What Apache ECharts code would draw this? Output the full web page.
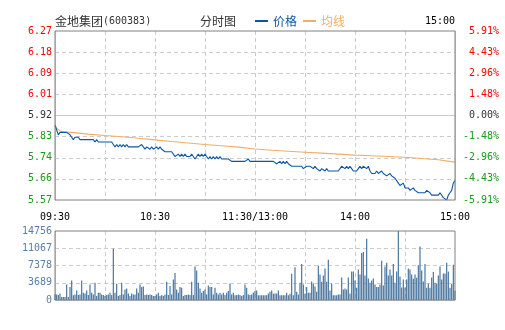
<!DOCTYPE html>
<html>
<head>
<meta charset="utf-8">
<script src="https://cdn.jsdelivr.net/npm/echarts@6/dist/echarts.min.js"></script>
<style>
  html, body { margin: 0; padding: 0; background: #fff; }
  #chart { width: 505px; height: 330px; }
</style>
</head>
<body>
<div id="chart"></div>
<script>
// Intraday (分时) chart: price + average line, per-minute volume below.
const stockName = '金地集团';
const stockCode = '(600383)';
const chartTitle = '分时图';
const closeTime = '15:00';
const prevClose = 5.92;

// Left / right axis labels, bottom to top
const priceTicks = ['5.57', '5.66', '5.74', '5.83', '5.92', '6.01', '6.09', '6.18', '6.27'];
const pctTicks = ['-5.91%', '-4.43%', '-2.96%', '-1.48%', '0.00%', '1.48%', '2.96%', '4.43%', '5.91%'];
const volumeMax = 14756;
const volumeStep = 3689;
const timeTicks = { 0: '09:30', 60: '10:30', 120: '11:30/13:00', 180: '14:00', 240: '15:00' };

// Last price per minute, 09:30 .. 15:00 (241 points)
const price = [
  5.88, 5.86, 5.84, 5.85, 5.85, 5.85, 5.85, 5.85, 5.85, 5.84,
  5.83, 5.82, 5.83, 5.83, 5.83, 5.82, 5.82, 5.82, 5.82, 5.82,
  5.82, 5.82, 5.82, 5.82, 5.81, 5.82, 5.81, 5.81, 5.81, 5.81,
  5.81, 5.81, 5.81, 5.81, 5.81, 5.80, 5.79, 5.80, 5.79, 5.80,
  5.79, 5.80, 5.79, 5.80, 5.79, 5.79, 5.79, 5.79, 5.79, 5.79,
  5.79, 5.79, 5.80, 5.79, 5.78, 5.79, 5.79, 5.78, 5.79, 5.78,
  5.78, 5.79, 5.78, 5.79, 5.78, 5.78, 5.77, 5.77, 5.77, 5.77,
  5.77, 5.76, 5.75, 5.75, 5.76, 5.75, 5.76, 5.75, 5.76, 5.75,
  5.75, 5.75, 5.76, 5.75, 5.74, 5.75, 5.76, 5.75, 5.76, 5.75,
  5.76, 5.75, 5.74, 5.75, 5.74, 5.75, 5.74, 5.75, 5.74, 5.75,
  5.74, 5.74, 5.74, 5.74, 5.74, 5.74, 5.73, 5.73, 5.73, 5.73,
  5.73, 5.73, 5.73, 5.73, 5.73, 5.73, 5.74, 5.73, 5.73, 5.73,
  5.73, 5.73, 5.73, 5.73, 5.73, 5.73, 5.73, 5.73, 5.73, 5.73,
  5.73, 5.73, 5.73, 5.72, 5.72, 5.73, 5.72, 5.73, 5.72, 5.73,
  5.72, 5.72, 5.71, 5.71, 5.71, 5.71, 5.71, 5.71, 5.71, 5.70,
  5.70, 5.71, 5.71, 5.71, 5.71, 5.70, 5.71, 5.70, 5.70, 5.69,
  5.70, 5.70, 5.69, 5.70, 5.69, 5.69, 5.69, 5.69, 5.69, 5.69,
  5.69, 5.70, 5.71, 5.71, 5.70, 5.71, 5.70, 5.71, 5.70, 5.69,
  5.69, 5.69, 5.70, 5.71, 5.70, 5.71, 5.71, 5.70, 5.71, 5.69,
  5.68, 5.68, 5.68, 5.69, 5.68, 5.68, 5.69, 5.68, 5.68, 5.67,
  5.67, 5.68, 5.67, 5.67, 5.66, 5.66, 5.64, 5.63, 5.63, 5.64,
  5.62, 5.62, 5.62, 5.61, 5.61, 5.62, 5.61, 5.61, 5.60, 5.60,
  5.60, 5.60, 5.60, 5.61, 5.61, 5.60, 5.59, 5.59, 5.59, 5.59,
  5.59, 5.60, 5.59, 5.58, 5.58, 5.57, 5.59, 5.60, 5.61, 5.64,
  5.65
];

// Average price (均线) at selected minutes
const avgMinute = [0, 1, 2, 3, 5, 10, 20, 30, 40, 50, 60, 70, 80, 90, 100, 110, 120, 130, 140, 150, 160, 170, 180, 190, 200, 210, 220, 230, 240];
const avgPrice = [5.880, 5.868, 5.860, 5.856, 5.853, 5.850, 5.843, 5.837, 5.832, 5.826, 5.819, 5.812, 5.806, 5.800, 5.795, 5.789, 5.781, 5.776, 5.772, 5.768, 5.764, 5.760, 5.756, 5.753, 5.750, 5.747, 5.742, 5.737, 5.727];

// Volume per minute (241 bars)
const volume = [
  1300, 1200, 1060, 1410, 640, 640, 640, 3320, 640, 2760,
  4170, 990, 1200, 2050, 1060, 1200, 4170, 1560, 1410, 2050,
  1060, 3320, 1560, 1200, 3680, 850, 1560, 1560, 1200, 1060,
  850, 1060, 1200, 1560, 1060, 10960, 1560, 3460, 850, 1060,
  3680, 1200, 2260, 2470, 1410, 850, 1410, 1200, 1200, 2470,
  1560, 3320, 2760, 2900, 1060, 1200, 1060, 1200, 1060, 850,
  850, 1200, 1560, 850, 1060, 850, 1200, 3890, 1060, 2970,
  1200, 4380, 5800, 2260, 1560, 2760, 2620, 850, 1060, 1060,
  1200, 1060, 3890, 1060, 7140, 6290, 3680, 2470, 1560, 1910,
  2260, 1200, 3110, 2760, 2760, 1200, 2620, 1560, 1200, 1560,
  1200, 1560, 1060, 1560, 1910, 3460, 1200, 1560, 990, 1060,
  1200, 1060, 850, 1060, 3320, 2620, 1200, 1060, 1200, 1600,
  1900, 2050, 990, 990, 990, 990, 990, 990, 1410, 1770,
  2050, 1340, 1410, 1410, 2050, 990, 990, 990, 990, 1560,
  990, 1340, 5590, 990, 7000, 1770, 1200, 3680, 7710, 3320,
  1410, 2760, 1560, 1560, 3960, 3540, 2900, 1770, 7350, 5440,
  3890, 5230, 6720, 3890, 8630, 2050, 3540, 990, 990, 990,
  1200, 1200, 4810, 2260, 2470, 2260, 4810, 1410, 6080, 6080,
  4170, 2620, 6500, 5440, 10040, 10250, 5230, 13080, 4600, 3680,
  4170, 4600, 3320, 2760, 2760, 3320, 8410, 3110, 7140, 7990,
  5230, 6500, 5230, 7710, 3680, 6080, 14756, 5020, 2690, 4380,
  2690, 4380, 6720, 6500, 5440, 4520, 5440, 4740, 7420, 11450,
  6290, 3960, 7710, 2620, 3460, 2620, 4810, 6010, 3680, 3460,
  5230, 7140, 4380, 5660, 5660, 7990, 6080, 2620, 3460, 7560,
  2000
];

// ---- build axis data ----
function pad(n) { return (n < 10 ? '0' : '') + n; }
const minutes = [];
for (let i = 0; i <= 240; i++) {
  const t = i <= 120 ? 9 * 60 + 30 + i : 13 * 60 + (i - 120);
  minutes.push(pad(Math.floor(t / 60)) + ':' + pad(t % 60));
}

// Price axis is expressed as offset from the previous close (1/10000 yuan),
// so the eight equal bands (±0.35) sit on exact integer ticks.
const HALF = 3500, STEP = 875;
const toAxis = p => Math.round((p - prevClose) * 10000);
const tickIndex = v => Math.round((v + HALF) / STEP);

const priceData = price.map(toAxis);
const avgData = minutes.map(() => null);
avgMinute.forEach((m, k) => { avgData[m] = toAxis(avgPrice[k]); });

const RED = '#ff0000', GREEN = '#1b9a1b', GREY = '#333333';
const sideColor = v => (v > 0 ? RED : v < 0 ? GREEN : GREY);
const MONO = '"DejaVu Sans Mono", "Liberation Mono", monospace';
const CJK = '"Noto Sans CJK SC", sans-serif';
const BORDER = '#808080';
const GRID_GREY = '#cccccc';

// Dashed reference grid; the axis lines share the same light grey and the
// grid frame is painted above them in darker grey.
const gridLineStyle = () => ({ color: GRID_GREY, type: [4, 3], width: 1 });
const splitEvery30 = i => i % 30 === 0 && i > 0 && i < 240;
const paleAxisLine = () => ({ show: true, lineStyle: { color: GRID_GREY, width: 1 } });

const chart = echarts.init(document.getElementById('chart'), null, { renderer: 'canvas' });
chart.setOption({
  animation: false,
  backgroundColor: '#ffffff',
  legend: {
    left: 255, top: 15,
    padding: 0,
    itemWidth: 13, itemHeight: 2, itemGap: 6,
    icon: 'rect',
    textStyle: { fontSize: 12, fontFamily: CJK },
    data: [
      { name: '价格', textStyle: { color: '#0a57a8' } },
      { name: '均线', textStyle: { color: '#f2ad66' } }
    ]
  },
  graphic: [
    { type: 'text', left: 55, top: 15, style: { text: stockName, font: '12px ' + CJK, fill: '#333' } },
    { type: 'text', left: 103, top: 16, style: { text: stockCode, font: '10px ' + MONO, fill: '#333' } },
    { type: 'text', left: 200, top: 15, style: { text: chartTitle, font: '12px ' + CJK, fill: '#333' } },
    { type: 'text', right: 50, top: 16, style: { text: closeTime, font: '10px ' + MONO, fill: '#000' } }
  ],
  grid: [
    { left: 55, top: 31, width: 400, height: 169, show: true, z: 5, backgroundColor: 'transparent', borderColor: BORDER, borderWidth: 1 },
    { left: 55, top: 231, width: 400, height: 69, show: true, z: 5, backgroundColor: 'transparent', borderColor: BORDER, borderWidth: 1 }
  ],
  xAxis: [
    {
      type: 'category', gridIndex: 0, data: minutes, boundaryGap: false,
      axisLine: paleAxisLine(), axisTick: { show: false },
      splitLine: { show: true, interval: splitEvery30, lineStyle: gridLineStyle() },
      axisLabel: {
        interval: i => timeTicks[i] !== undefined,
        formatter: (val, i) => timeTicks[i] || '',
        margin: 12, fontSize: 10, fontFamily: MONO, color: '#000'
      }
    },
    {
      type: 'category', gridIndex: 1, data: minutes, boundaryGap: false,
      axisLine: paleAxisLine(), axisTick: { show: false }, axisLabel: { show: false },
      splitLine: { show: true, interval: splitEvery30, lineStyle: gridLineStyle() }
    }
  ],
  yAxis: [
    {
      type: 'value', gridIndex: 0, position: 'left',
      min: -HALF, max: HALF, interval: STEP,
      axisLine: paleAxisLine(), axisTick: { show: false },
      splitLine: { show: true, showMinLine: false, showMaxLine: false, lineStyle: gridLineStyle() },
      axisLabel: {
        margin: 3, fontSize: 10, fontFamily: MONO,
        formatter: v => priceTicks[tickIndex(v)],
        color: v => sideColor(v)
      }
    },
    {
      type: 'value', gridIndex: 0, position: 'right',
      min: -HALF, max: HALF, interval: STEP,
      axisLine: paleAxisLine(), axisTick: { show: false }, splitLine: { show: false },
      axisLabel: {
        margin: 44, align: 'right', fontSize: 10, fontFamily: MONO,
        formatter: v => pctTicks[tickIndex(v)],
        color: v => sideColor(v)
      }
    },
    {
      type: 'value', gridIndex: 1,
      min: 0, max: volumeMax, interval: volumeStep,
      axisLine: paleAxisLine(), axisTick: { show: false },
      splitLine: { show: true, showMinLine: false, showMaxLine: false, lineStyle: gridLineStyle() },
      axisLabel: {
        margin: 3, fontSize: 10, fontFamily: MONO, color: '#5a7ea6',
        formatter: v => String(v)
      }
    }
  ],
  series: [
    {
      name: '均线', type: 'line', xAxisIndex: 0, yAxisIndex: 0,
      data: avgData, connectNulls: true, showSymbol: false, symbol: 'none',
      lineStyle: { color: '#f2ad66', width: 1.1 }, itemStyle: { color: '#f2ad66' },
      z: 2
    },
    {
      name: '价格', type: 'line', xAxisIndex: 0, yAxisIndex: 0,
      data: priceData, showSymbol: false, symbol: 'none',
      lineStyle: { color: '#0a57a8', width: 1.1 }, itemStyle: { color: '#0a57a8' },
      z: 3
    },
    {
      name: '成交量', type: 'bar', xAxisIndex: 1, yAxisIndex: 2,
      data: volume, barWidth: 1.2,
      itemStyle: { color: '#4a76a0' }
    }
  ]
});
</script>
</body>
</html>
